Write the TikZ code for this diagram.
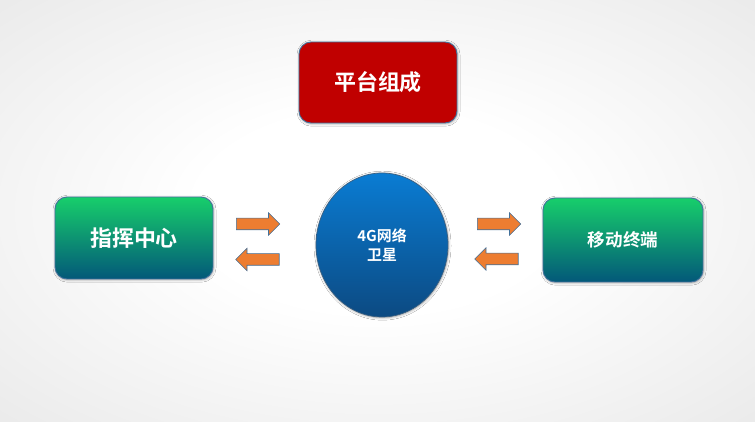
\documentclass[tikz,border=0pt]{standalone}
\usepackage{fontspec}
\newfontfamily\cjk{Noto Sans CJK SC Bold}
\usetikzlibrary{positioning, shapes.geometric, shapes.arrows, shadows.blur}

\definecolor{boxred}{HTML}{C00000}
\definecolor{greentop}{HTML}{17CE6B}
\definecolor{greenbot}{HTML}{035879}
\definecolor{bluetop}{HTML}{0A7CD3}
\definecolor{bluebot}{HTML}{0C4A82}
\definecolor{edgeblue}{HTML}{41719C}
\definecolor{arrorange}{HTML}{ED7D31}
\pgfdeclareradialshading{bgshade}{\pgfpoint{0bp}{0bp}}{color(0bp)=(white); color(12bp)=(white); color(50bp)=(black!13); color(72bp)=(black!16)}

\tikzset{
	softshadow/.style={blur shadow={shadow blur steps=5, shadow xshift=0.3pt, shadow yshift=-0.4pt, shadow opacity=40, shadow blur radius=0.05cm}},
	box/.style={draw=edgeblue, line width=0.5pt, rounded corners=0.24cm, text=white, font=\cjk, softshadow},
	greenbox/.style={box, top color=greentop, bottom color=greenbot},
	blockarr/.style={single arrow, draw=edgeblue, line width=0.3pt, fill=arrorange, inner sep=0.11cm,
		single arrow head extend=0.11cm, minimum height=0.87cm, anchor=tail}
}

\begin{document}
\begin{tikzpicture}[x=0.02cm, y=-0.02cm]
	\useasboundingbox (0,0) rectangle (755,422);
	\shade[shading=bgshade] (0,0) rectangle (755,422);
	\node[box, fill=boxred, minimum width=3.16cm, minimum height=1.62cm, font=\cjk\fontsize{12.5}{14}\selectfont] (platform) at (378,82.5) {平台组成};
	\node[greenbox, minimum width=3.16cm, minimum height=1.64cm, font=\cjk\fontsize{12.5}{14}\selectfont] (command) at (134,238) {指挥中心};
	\node[greenbox, minimum width=3.2cm, minimum height=1.68cm, font=\cjk\fontsize{10}{12}\selectfont] (terminal) at (623,240) {移动终端};
	\node[ellipse, draw=bluebot!60!gray, line width=0.4pt, top color=bluetop, bottom color=bluebot, text=white, align=center,
		minimum width=2.64cm, minimum height=2.88cm, inner sep=0pt, font=\cjk\fontsize{8.5}{10.5}\selectfont, softshadow] (sat) at (382,245) {4G网络\\卫星};
	\node[blockarr] (lto) at (236,224) {};
	\node[blockarr, shape border rotate=180] (lfrom) at (279.5,259.5) {};
	\node[blockarr] (rto) at (477,224) {};
	\node[blockarr, shape border rotate=180] (rfrom) at (518.5,259) {};
\end{tikzpicture}
\end{document}
